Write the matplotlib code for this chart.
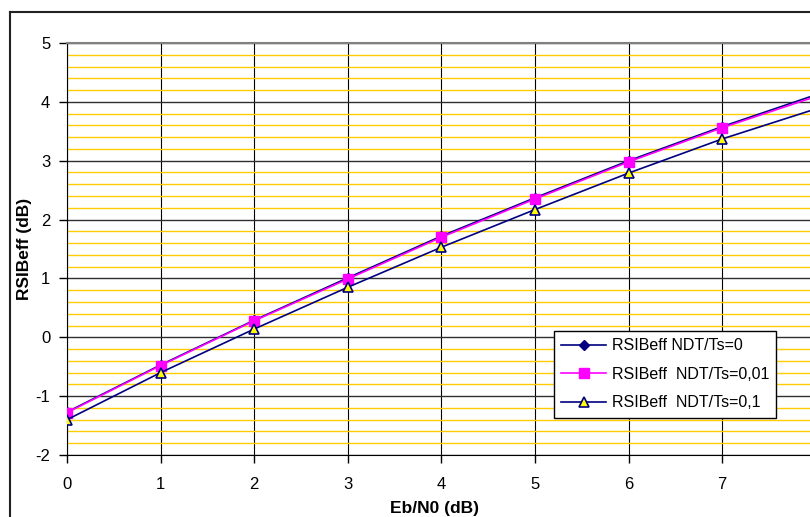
import matplotlib
matplotlib.use("Agg")
import matplotlib.pyplot as plt
from matplotlib.lines import Line2D
from matplotlib.ticker import MultipleLocator

plt.rcParams['font.family'] = ['Liberation Sans', 'DejaVu Sans']
plt.rcParams['axes.unicode_minus'] = False

# Data
ebn0 = [0, 1, 2, 3, 4, 5, 6, 7, 8]
rsi_0 = [-1.27, -0.47, 0.29, 1.01, 1.72, 2.37, 3.00, 3.58, 4.12]
rsi_001 = [-1.28, -0.48, 0.28, 0.99, 1.70, 2.35, 2.98, 3.56, 4.09]
rsi_01 = [-1.40, -0.60, 0.14, 0.85, 1.53, 2.17, 2.79, 3.37, 3.88]
labels = ["RSIBeff NDT/Ts=0", "RSIBeff  NDT/Ts=0,01", "RSIBeff  NDT/Ts=0,1"]

W, H = 810, 517
fig = plt.figure(figsize=(W / 100, H / 100), dpi=100)
fig.patch.set_facecolor('white')

ax = fig.add_axes([67 / W, (H - 455) / H, (W - 67) / W, (455 - 43) / H])
ax.set_xlim(0, (W - 67) / 93.6)
ax.set_ylim(-2, 5)

ax.xaxis.set_major_locator(MultipleLocator(1))
ax.yaxis.set_major_locator(MultipleLocator(1))
ax.yaxis.set_minor_locator(MultipleLocator(0.2))

ax.grid(which='minor', axis='y', color='#FFCC00', lw=1.0, zorder=0)
ax.grid(which='major', axis='y', color='#303030', lw=1.0, zorder=1)
ax.grid(which='major', axis='x', color='black', lw=0.8, zorder=1)
ax.set_axisbelow(True)

ax.tick_params(which='major', direction='out', length=6, width=1, color='black',
               labelsize=12, pad=6)
ax.tick_params(which='minor', length=0)
ax.tick_params(axis='x', pad=10)

ax.spines['right'].set_visible(False)
ax.spines['top'].set_color('#808080')
ax.spines['top'].set_linewidth(1.5)
ax.spines['left'].set_color('black')
ax.spines['bottom'].set_color('black')

l1, = ax.plot(ebn0, rsi_0, color='#000080', lw=1.2, marker='D', markersize=5,
              markerfacecolor='#000080', markeredgecolor='#000080', zorder=3)
l2, = ax.plot(ebn0, rsi_001, color='#FF00FF', lw=1.2, marker='s', markersize=6.5,
              markerfacecolor='#FF00FF', markeredgecolor='#FF00FF', zorder=4)
l3, = ax.plot(ebn0, rsi_01, color='#000080', lw=1.2, marker='^', markersize=7.5,
              markerfacecolor='#FFFF00', markeredgecolor='#000080', markeredgewidth=1.2, zorder=5)

ax.set_ylabel("RSIBeff (dB)", fontsize=12.5, fontweight='bold')
ax.yaxis.set_label_coords((25 - 67) / (W - 67), 0.5)
ax.yaxis.label.set_va('center')
ax.set_xlabel("Eb/N0 (dB)", fontsize=12.5, fontweight='bold')
ax.xaxis.set_label_coords((435 - 67) / (W - 67), (455 - 508) / (455 - 43))
ax.xaxis.label.set_va('center')

leg = fig.legend([l1, l2, l3], labels, loc='upper left',
                 bbox_to_anchor=(554 / W, 1 - 331 / H), borderaxespad=0,
                 fancybox=False, edgecolor='black', framealpha=1, fontsize=11.5,
                 handlelength=2.8, handletextpad=0.35, labelspacing=0.85,
                 borderpad=0.45)
leg.get_frame().set_linewidth(1.0)

# Outer chart frame (cropped)
fig.add_artist(Line2D([10 / W, 10 / W], [0, 1 - 12 / H], color='#222222', lw=1.5))
fig.add_artist(Line2D([10 / W, 1], [1 - 12 / H, 1 - 12 / H], color='#222222', lw=1.5))

fig.savefig("out.png", dpi=100)
